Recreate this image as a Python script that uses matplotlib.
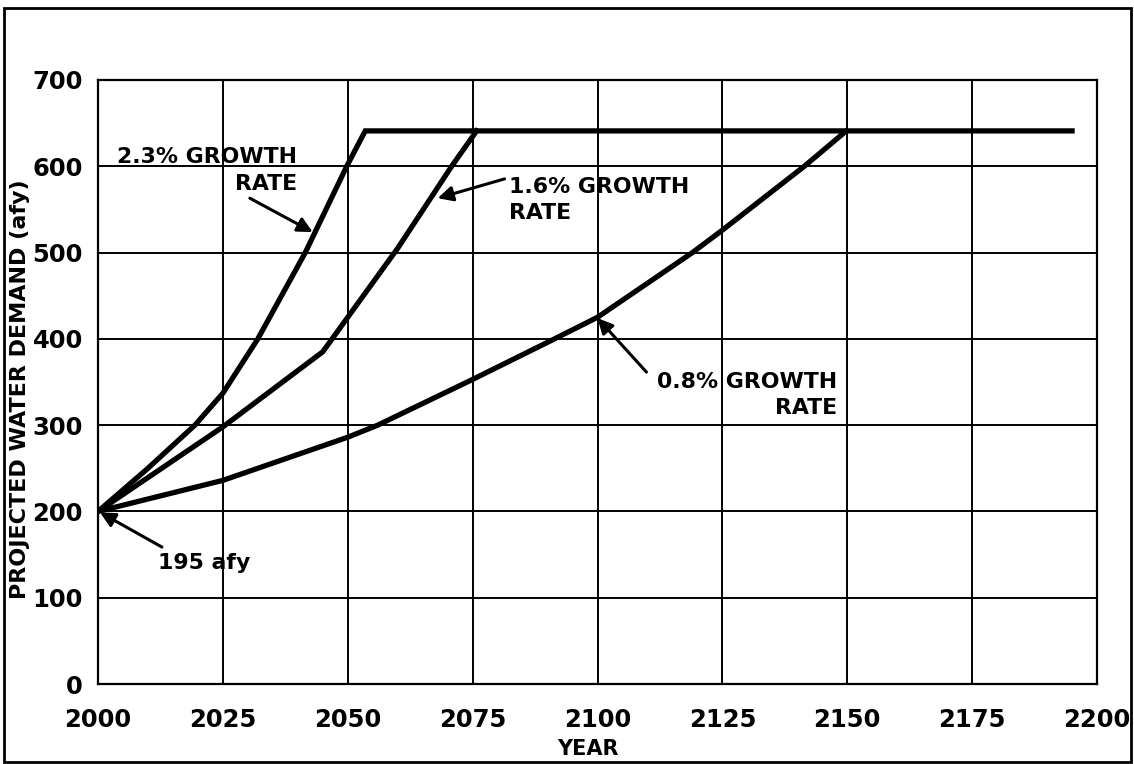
import matplotlib
matplotlib.use('Agg')
import matplotlib.pyplot as plt
from matplotlib.patches import Rectangle

plt.rcParams['font.family'] = ['DejaVu Sans']
plt.rcParams['font.weight'] = 'bold'

# 읽어낸 곡선 값 (연도, afy)
years_23 = [2000, 2010, 2019.4, 2025, 2032, 2041.5, 2049.8, 2053.5, 2195]
demand_23 = [200, 250, 300, 337, 400, 500, 600, 641, 641]

years_16 = [2000, 2025, 2045, 2050, 2060, 2070.8, 2075.8]
demand_16 = [200, 298, 385, 425, 505, 600, 641]

years_08 = [2000, 2025, 2050, 2056, 2075, 2091.4, 2100, 2119, 2125, 2141.4, 2149.8]
demand_08 = [200, 236, 286, 300, 353, 400, 425, 500, 526, 600, 641]

x_ticks = [2000, 2025, 2050, 2075, 2100, 2125, 2150, 2175, 2200]
y_ticks = [0, 100, 200, 300, 400, 500, 600, 700]

fig = plt.figure(figsize=(11.34, 7.64), dpi=100)
ax = fig.add_axes([0.0864, 0.1047, 0.881, 0.7906])

for xs, ys in [(years_23, demand_23), (years_16, demand_16), (years_08, demand_08)]:
    ax.plot(xs, ys, color='black', lw=3.8, solid_joinstyle='miter', zorder=3)

ax.set_xlim(2000, 2200)
ax.set_ylim(0, 700)
ax.set_xticks(x_ticks)
ax.set_yticks(y_ticks)
ax.grid(True, color='black', lw=1.4)
ax.tick_params(length=0, labelsize=17.5, pad=11)
ax.tick_params(axis='x', pad=17)
for s in ax.spines.values():
    s.set_linewidth(1.6)

ax.set_xlabel('YEAR', fontsize=15, fontweight='bold', va='center')
ax.xaxis.set_label_coords(0.490, -0.1076)
fig.text(0.018, 0.491, 'PROJECTED WATER DEMAND (afy)', rotation=90,
         fontsize=16, fontweight='bold', ha='center', va='center')

# 주석
tk = dict(fontsize=15.8, fontweight='bold', va='center')
ax.text(2003.8, 610.7, '2.3% GROWTH', ha='left', **tk)
ax.text(2039.8, 579.4, 'RATE', ha='right', **tk)
ax.text(2082.2, 576, '1.6% GROWTH', ha='left', **tk)
ax.text(2082.2, 545.8, 'RATE', ha='left', **tk)
ax.text(2148, 350, '0.8% GROWTH', ha='right', **tk)
ax.text(2148, 319.8, 'RATE', ha='right', **tk)
ax.text(2012, 140, '195 afy', ha='left', **tk)

ap = dict(arrowstyle='-|>,head_length=0.9,head_width=0.45', color='black', lw=2.2,
          shrinkA=0, shrinkB=0)
ax.annotate('', xy=(2043, 523.7), xytext=(2030.4, 563), arrowprops=ap)
ax.annotate('', xy=(2068, 563), xytext=(2081.4, 585.4), arrowprops=ap)
ax.annotate('', xy=(2100, 424), xytext=(2109.8, 361.5), arrowprops=ap)
ax.annotate('', xy=(2000.4, 199), xytext=(2012.8, 158.7), arrowprops=ap)

# 바깥 테두리
fig.patches.append(Rectangle((0.0035, 0.003), 0.9935, 0.986, transform=fig.transFigure,
                             fill=False, edgecolor='black', lw=2))

fig.savefig('out.png', dpi=100)
